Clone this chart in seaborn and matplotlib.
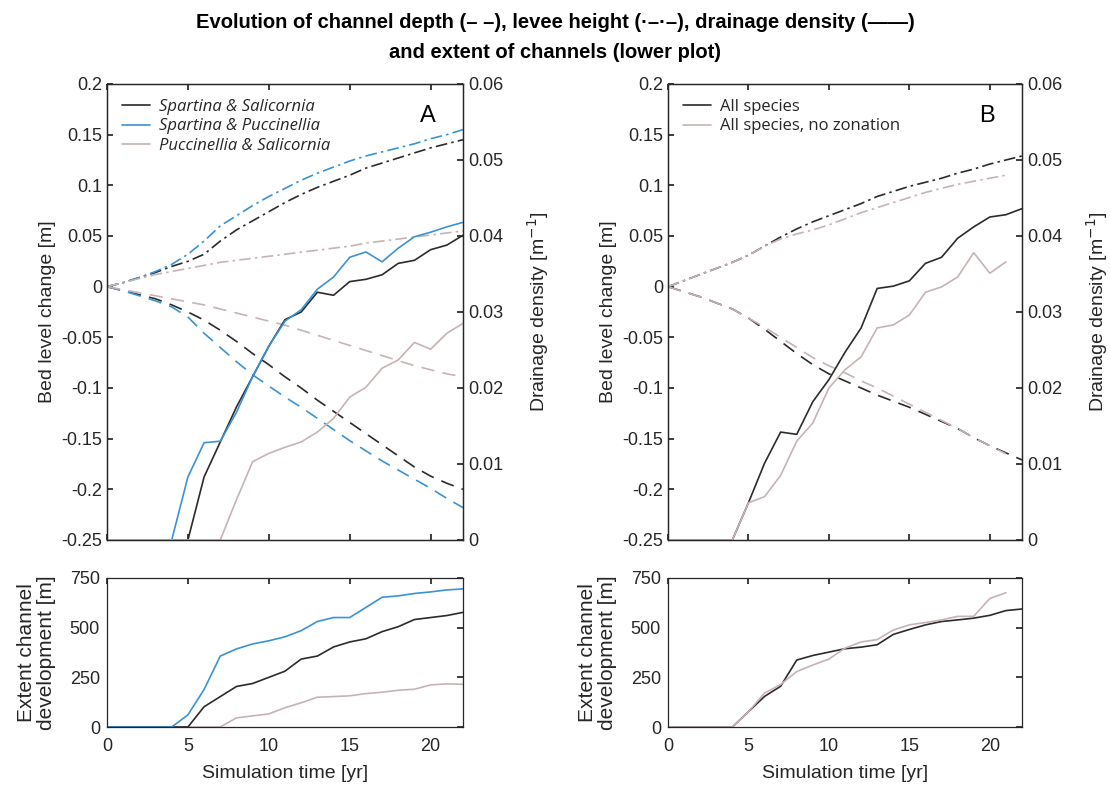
import numpy as np
import pandas as pd
import matplotlib
matplotlib.use("Agg")
import matplotlib.pyplot as plt
import seaborn as sns
from matplotlib.lines import Line2D

# ---------------- data ----------------
years = list(range(0, 23))
years_nz = list(range(0, 22))

# Panel A: levee height (dash-dot) [m]
levee_ss = [0, 0.004, 0.009, 0.014, 0.020, 0.025, 0.032, 0.045, 0.056, 0.065, 0.074, 0.083, 0.091,
            0.098, 0.104, 0.110, 0.117, 0.122, 0.127, 0.132, 0.137, 0.141, 0.145]
levee_sp = [0, 0.004, 0.009, 0.015, 0.022, 0.032, 0.045, 0.060, 0.070, 0.080, 0.089, 0.097, 0.105,
            0.112, 0.118, 0.124, 0.129, 0.133, 0.137, 0.141, 0.146, 0.150, 0.155]
levee_ps = [0, 0.004, 0.008, 0.012, 0.015, 0.018, 0.021, 0.024, 0.026, 0.028, 0.030, 0.032, 0.034,
            0.036, 0.038, 0.040, 0.043, 0.045, 0.047, 0.049, 0.051, 0.053, 0.055]
# Panel A: channel depth (dashed) [m]
depth_ss = [0, -0.004, -0.008, -0.012, -0.018, -0.025, -0.033, -0.043, -0.054, -0.066, -0.077, -0.089,
            -0.100, -0.112, -0.123, -0.134, -0.145, -0.156, -0.167, -0.178, -0.187, -0.194, -0.200]
depth_sp = [0, -0.004, -0.009, -0.014, -0.020, -0.030, -0.046, -0.060, -0.074, -0.087, -0.098, -0.109,
            -0.119, -0.130, -0.141, -0.152, -0.162, -0.172, -0.181, -0.190, -0.199, -0.209, -0.218]
depth_ps = [0, -0.003, -0.006, -0.009, -0.012, -0.015, -0.018, -0.022, -0.026, -0.030, -0.034, -0.038,
            -0.043, -0.048, -0.053, -0.058, -0.063, -0.068, -0.073, -0.078, -0.082, -0.086, -0.089]
# Panel A: drainage density (solid) [1/m]
dd_ss = [0, 0, 0, 0, 0, 0, 0.0083, 0.0129, 0.0175, 0.0215, 0.0255, 0.0290, 0.0300, 0.0326, 0.0322,
         0.0340, 0.0343, 0.0349, 0.0364, 0.0368, 0.0382, 0.0388, 0.0401]
dd_sp = [0, 0, 0, 0, 0, 0.0083, 0.0128, 0.0130, 0.0168, 0.0215, 0.0255, 0.0288, 0.0303, 0.0330, 0.0346,
         0.0372, 0.0379, 0.0366, 0.0384, 0.0399, 0.0405, 0.0412, 0.0418]
dd_ps = [0, 0, 0, 0, 0, 0, 0, 0, 0.0053, 0.0103, 0.0114, 0.0122, 0.0129, 0.0142, 0.0160, 0.0188,
         0.0201, 0.0226, 0.0237, 0.0260, 0.0251, 0.0272, 0.0285]
# Panel A: extent of channels [m]
ext_ss = [0, 0, 0, 0, 0, 0, 102, 153, 204, 219, 250, 281, 342, 357, 403, 428, 444, 480, 505, 541, 551, 561, 577]
ext_sp = [0, 0, 0, 0, 0, 61, 189, 357, 393, 418, 434, 454, 485, 531, 551, 551, 602, 653, 660, 672, 680, 690, 695]
ext_ps = [0, 0, 0, 0, 0, 0, 0, 0, 46, 56, 66, 97, 122, 150, 153, 157, 168, 175, 185, 190, 212, 217, 215]

# Panel B: all species / all species no zonation
levee_all = [0, 0.006, 0.012, 0.018, 0.024, 0.031, 0.040, 0.049, 0.057, 0.064, 0.070, 0.076, 0.082,
             0.089, 0.094, 0.099, 0.103, 0.107, 0.112, 0.116, 0.121, 0.125, 0.129]
levee_nz = [0, 0.006, 0.012, 0.018, 0.024, 0.031, 0.040, 0.047, 0.052, 0.056, 0.061, 0.067, 0.073,
            0.078, 0.083, 0.088, 0.093, 0.097, 0.101, 0.104, 0.107, 0.110]
depth_all = [0, -0.005, -0.010, -0.016, -0.022, -0.031, -0.042, -0.054, -0.066, -0.077, -0.086, -0.093,
             -0.100, -0.107, -0.113, -0.119, -0.126, -0.133, -0.140, -0.149, -0.157, -0.164, -0.171]
depth_nz = [0, -0.005, -0.010, -0.016, -0.022, -0.031, -0.040, -0.050, -0.060, -0.070, -0.078, -0.085,
            -0.093, -0.100, -0.108, -0.116, -0.124, -0.132, -0.140, -0.149, -0.157, -0.165]
dd_all = [0, 0, 0, 0, 0, 0.0049, 0.0101, 0.0142, 0.0139, 0.0182, 0.0211, 0.0247, 0.0279, 0.0331, 0.0334,
          0.0341, 0.0364, 0.0372, 0.0397, 0.0412, 0.0425, 0.0428, 0.0436]
dd_nz = [0, 0, 0, 0, 0, 0.0049, 0.0057, 0.0085, 0.0130, 0.0154, 0.0200, 0.0224, 0.0241, 0.0279, 0.0283,
         0.0296, 0.0326, 0.0333, 0.0346, 0.0378, 0.0351, 0.0366]
ext_all = [0, 0, 0, 0, 0, 77, 154, 205, 337, 360, 377, 394, 402, 414, 466, 491, 514, 531, 539, 548, 562, 586, 594]
ext_nz = [0, 0, 0, 0, 0, 77, 171, 214, 279, 312, 342, 397, 428, 440, 488, 514, 526, 539, 557, 557, 647, 676]

labels_A = ["Spartina & Salicornia", "Spartina & Puccinellia", "Puccinellia & Salicornia"]
labels_B = ["All species", "All species, no zonation"]
yticks_top = [-0.25, -0.2, -0.15, -0.1, -0.05, 0, 0.05, 0.1, 0.15, 0.2]
yticklabels_top = ["-0.25", "-0.2", "-0.15", "-0.1", "-0.05", "0", "0.05", "0.1", "0.15", "0.2"]
yticks_dd = [0, 0.01, 0.02, 0.03, 0.04, 0.05, 0.06]
yticklabels_dd = ["0", "0.01", "0.02", "0.03", "0.04", "0.05", "0.06"]
yticks_ext = [0, 250, 500, 750]
xticks = [0, 5, 10, 15, 20]

# ---------------- style ----------------
sns.set_theme(style="white")
plt.rcParams["font.family"] = ["Liberation Sans", "DejaVu Sans"]
plt.rcParams.update({
    "xtick.direction": "in", "ytick.direction": "in",
    "xtick.major.size": 4, "ytick.major.size": 4,
    "axes.edgecolor": "#262626", "axes.linewidth": 0.9,
    "xtick.color": "#262626", "ytick.color": "#262626",
    "text.color": "#262626", "axes.labelcolor": "#262626",
})

BLACK = "#2b2b2b"
BLUE = "#3a93d4"
PINK = "#c7b3b3"
DASH = (0, (8, 5))
DASHDOT = (0, (7, 2.5, 1.5, 2.5))
LW = 1.2
TICK_FS = 13
LABEL_FS = 14

fig = plt.figure(figsize=(11.1, 7.87), dpi=100)

def axes_px(l, t, r, b):
    W, H = 1110, 787
    return fig.add_axes([l / W, 1 - b / H, (r - l) / W, (b - t) / H])

def line(ax, x, y, color, ls):
    sns.lineplot(x=x, y=y, ax=ax, color=color, linewidth=LW, linestyle=ls, legend=False)

def top_panel(ax, series, letter, labels, italic):
    ax2 = ax.twinx()
    for x, lev, dep, dd, c in series:
        line(ax, x, lev, c, DASHDOT)
        line(ax, x, dep, c, DASH)
        line(ax2, x, dd, c, "-")
    ax.set_xlim(0, 22)
    ax.set_ylim(-0.25, 0.2)
    ax2.set_ylim(0, 0.06)
    ax.set_yticks(yticks_top)
    ax.set_yticklabels(yticklabels_top, fontsize=TICK_FS)
    ax2.set_yticks(yticks_dd)
    ax2.set_yticklabels(yticklabels_dd, fontsize=TICK_FS)
    ax.set_xticks(xticks)
    ax.set_xticklabels([])
    ax.tick_params(axis="both", direction="in", length=4, top=True, bottom=True, left=True, right=False)
    ax2.tick_params(axis="y", direction="in", length=4)
    ax.set_ylabel("Bed level change [m]", fontsize=LABEL_FS, labelpad=4)
    ax2.set_ylabel("Drainage density [m$^{-1}$]", fontsize=LABEL_FS, labelpad=16)
    ax.set_xlabel("")
    ax2.set_xlabel("")
    ax.text(0.902, 0.93, letter, transform=ax.transAxes, fontsize=17, ha="center", va="center", color="black")
    handles = [Line2D([], [], color=s[4], lw=LW) for s in series]
    ax2.legend(handles, labels, loc="upper left", bbox_to_anchor=(0.0, 1.0), frameon=False,
               handlelength=1.7, handletextpad=0.5, labelspacing=0.2, borderaxespad=0.5,
               prop={"family": "Open Sans", "size": 12, "style": "italic" if italic else "normal"})
    return ax2

def bottom_panel(ax, series):
    for x, ext, c in series:
        line(ax, x, ext, c, "-")
    ax.set_xlim(0, 22)
    ax.set_ylim(0, 750)
    ax.set_xticks(xticks)
    ax.set_xticklabels([str(v) for v in xticks], fontsize=TICK_FS)
    ax.set_yticks(yticks_ext)
    ax.set_yticklabels([str(v) for v in yticks_ext], fontsize=TICK_FS)
    ax.tick_params(axis="both", direction="in", length=4, top=True, right=True)
    ax.tick_params(axis="x", pad=8)
    ax.tick_params(axis="y", pad=5)
    ax.set_xlabel("Simulation time [yr]", fontsize=LABEL_FS, labelpad=7)
    ax.set_ylabel("Extent channel\ndevelopment [m]", fontsize=LABEL_FS + 1, labelpad=10, linespacing=1.05)

axA = axes_px(107, 84, 463, 540)
axAb = axes_px(107, 578, 463, 727)
axB = axes_px(668, 84, 1022, 540)
axBb = axes_px(668, 578, 1022, 727)

top_panel(axA, [(years, levee_ss, depth_ss, dd_ss, BLACK),
                (years, levee_sp, depth_sp, dd_sp, BLUE),
                (years, levee_ps, depth_ps, dd_ps, PINK)], "A", labels_A, True)
top_panel(axB, [(years, levee_all, depth_all, dd_all, BLACK),
                (years_nz, levee_nz, depth_nz, dd_nz, PINK)], "B", labels_B, False)

bottom_panel(axAb, [(years, ext_ps, PINK), (years, ext_ss, BLACK), (years, ext_sp, BLUE)])
bottom_panel(axBb, [(years, ext_all, BLACK), (years_nz, ext_nz, PINK)])

fig.text(0.5, 1 - 23 / 787, "Evolution of channel depth (\u2013 \u2013), levee height (\u00b7\u2013\u00b7\u2013), drainage density (\u2014\u2014)",
         ha="center", va="center", fontsize=14.5, fontweight="bold", color="black")
fig.text(0.5, 1 - 53 / 787, "and extent of channels (lower plot)",
         ha="center", va="center", fontsize=14.5, fontweight="bold", color="black")

fig.savefig("out.png", dpi=100)
